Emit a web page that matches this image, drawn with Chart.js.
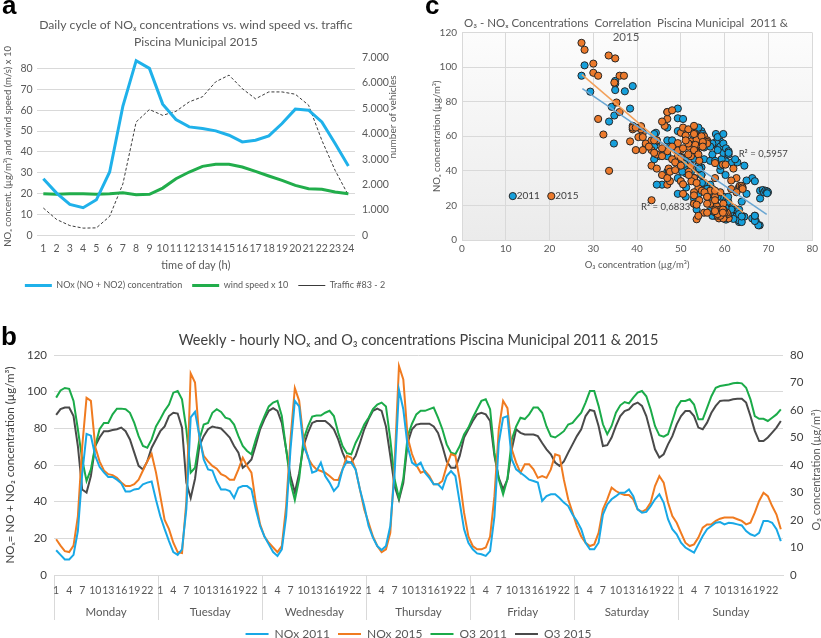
<!DOCTYPE html>
<html>
<head>
<meta charset="utf-8">
<script src="https://cdn.jsdelivr.net/npm/chart.js@4.4.1/dist/chart.umd.min.js"></script>
<style>
html,body{margin:0;padding:0;background:#fff;width:821px;height:638px;overflow:hidden;}
.panel{position:absolute;}
.lbl{position:absolute;font-family:'Liberation Sans',Arial,sans-serif;font-weight:bold;font-size:26px;line-height:26px;color:#000;}
</style>
</head>
<body>
<div class="panel" style="left:0;top:0;"><canvas id="ca" width="410" height="304"></canvas></div>
<div class="panel" style="left:410px;top:0;"><canvas id="cc" width="411" height="300"></canvas></div>
<div class="panel" style="left:0;top:318px;"><canvas id="cb" width="821" height="332"></canvas></div>
<div class="lbl" style="left:2px;top:-8px;">a</div>
<div class="lbl" style="left:425px;top:-8px;">c</div>
<div class="lbl" style="left:1px;top:323px;">b</div>
<script>
// ---------- Panel a: daily cycle ----------
const hoursA = ['1','2','3','4','5','6','7','8','9','10','11','12','13','14','15','16','17','18','19','20','21','22','23','24'];
const noxDaily = [27.2,20.3,14.9,13.3,17.1,30.4,62,83.7,80,62.9,55.5,52,51.2,50.1,48,44.8,45.6,47.7,53.6,60.5,60,54.4,44,33.3];
const windX10 = [20,19.7,20,20,19.7,20,20.5,19.5,19.7,22.7,27.2,30.4,33.1,34.1,34.1,32.8,30.7,28.5,26.4,24,22.4,22.1,20.8,20];
const traffic = [1080,630,390,290,300,750,2030,4460,4950,4720,4880,5250,5450,6040,6300,5770,5370,5640,5640,5550,5120,3740,2560,1580];

// ---------- Panel b: weekly-hourly ----------
const dayNames = ['Monday','Tuesday','Wednesday','Thursday','Friday','Saturday','Sunday'];
const hourLabels = hoursA;
const nox2011 = [
 13.5,11,8.5,8.5,11,24,55,77,76,65,59,56,53.5,53.5,52,50,45.5,45.5,46.7,47,49.5,50.4,51,41,
 32,25,18.5,12.5,11,14,36,86,89,76,63,57.6,57,51,46.7,46.7,45.8,42,47.6,48.5,48.5,46.7,35.8,26.7,
 21,16.7,12.5,10.4,14,32,68.5,95,92,70.4,65,55.8,56.7,61.3,54,50.4,45.8,48.5,57.6,62,61.3,57.6,46.7,37.6,
 26.7,20.4,15.8,13.6,15.8,26.7,55.8,101,90.4,70,61.3,59.5,61.3,55.8,53,49.5,49.5,47,54,56.7,54,39.5,25,17.6,
 14,11.8,11.3,10.4,13,32,72,85.8,86.7,63,57.6,55.8,54,52,51.3,50.4,40.4,43,44,44,42,39.5,37.6,33,
 29.5,25,17.6,14,14,17.6,33,38.5,41.3,43,44.9,44.9,46.7,43,35.8,34,34.4,37.6,41.3,44,39.5,30.4,25,22.2,
 17.6,15,13.6,12.2,16.7,21.3,25,26.7,28.5,28.9,27.6,28.5,28.2,27.6,27,24,22.2,21.3,23,29.5,29.5,28.5,25,18.5];
const nox2015 = [
 19.5,16,13,12.5,16,32,70,96.7,95,70,62,57,55,54.5,53,50.5,48.5,48.5,49.5,52,57,62,66,56,
 43,30,25,17.6,12.5,12,40,110,105,74,65,62,59.5,58,55,54,52,52,57.6,64,59.5,55.8,39.5,27.6,
 21,17.6,15,12.5,15.8,37.6,74,102,95,74,64,60,57.6,56.7,55.8,54,52,51.8,57.6,65,64,57.6,46.7,35.8,
 28.5,21,15.8,12.5,14,23,61,114,106.7,75,66,60,55.8,56.7,54,49.5,49.5,51.3,59.5,66,65,52,34,21,
 15.8,14,14,15,21,43,79.5,95,91,68.5,61.3,55.8,60.4,60.4,57.6,53,54,53,57.6,65.8,65,52,41.3,34,
 26.7,21,17.6,15.8,16.7,23,35.8,41.3,47.6,45.8,44.5,43.6,43.6,41.3,35.8,34.4,35.8,39.5,48.5,54,50.4,39.5,32.2,28.5,
 23,17.6,15.8,16.7,20.4,25.8,27.6,27.6,29.5,30.7,31.3,31.3,31.3,30.4,29.5,27.6,28.5,34,40.4,44.9,43,37.6,33,25];
const o3_2011 = [
 64.5,67.1,68,67.7,63.3,53,42,34.2,38.4,46.9,53,55.3,55.3,58.4,60.5,60.5,60.3,59,55.3,50.5,46.9,46.3,49.3,54,
 56.7,59.7,62,66.3,66.9,63.9,53,37.2,39,49.3,54.7,55.3,59,60.3,59.3,57.2,56.7,54.7,50.5,46.9,45.1,43.9,49.3,54,
 57.8,61.3,62.7,63.3,57.8,45.7,33.6,27.3,35,49.3,54,57.6,58,58,59,59.7,57.8,51.7,46.9,44.3,43.9,48,51.1,54.7,
 57.2,60.3,62,62.7,61.3,49.3,34.7,28,35,50.5,55,58.4,59.7,59.7,60.3,60.9,57.2,53,47.5,44.5,43.9,46.9,51.1,53.6,
 57.2,60.3,63.3,63.9,60.3,44.5,34.8,29.3,35,49.3,54,57.2,56.7,58.4,60.9,60.9,59,54,50.5,50,51.1,52.3,54.7,55.3,
 57.2,59,62.7,66.9,66.9,61.5,54.8,51.2,54.2,59,61.7,62.9,62.4,64.5,66.3,66.9,65,60.2,54.2,50.8,50.3,51.2,56,60.8,
 63.3,63.3,63.9,62,56.6,56.6,60.8,65,68.1,68.7,69,69.3,69.7,69.9,69.7,68.1,63.9,57.8,56.8,56.8,56,57.2,58.4,60.2];
const o3_2015 = [
 58.2,60.3,60.9,60.9,57.8,46.9,31.1,30,36,46.9,50,52.3,52.3,52.7,53,53.6,52.3,49.3,44.5,39.7,38.4,41.3,46.3,49.3,
 52.3,54,57.8,59,58.7,53.6,33.6,28,35,46.9,50.5,53,54,53.6,53.3,51.7,50,46.9,44.5,39,40.3,42,47.3,53,
 56.7,59.7,60.7,59.7,55.3,45.7,36,30,37,46.9,51.7,55.3,56,56,56,54.7,53,49.3,44.5,40.9,40.9,43.3,48,53,
 56.7,59.7,60.5,59.7,54,43.3,32.3,27.3,33.5,48,53,54.7,55,55,55,54,51.7,46.9,41.3,39,39,43.3,50,53,
 56,58.4,59,58.4,56,43.3,35.3,31.1,34.8,45.7,53,51.7,51.1,51.1,51.1,50.5,48,45.7,43.9,40.9,39.7,41.3,44.5,47.5,
 50.5,53,57.8,60,59.6,54.2,46.9,47.2,50,54.2,57.8,59.6,60.2,62,62.7,61.5,57.8,51.8,45.7,42.7,43.9,47.5,50.5,54.8,
 57.8,59.6,59.6,57.8,53.6,53,55.4,59,61.5,63.3,63.5,63.5,63.9,64.1,64.1,62.7,57.8,52.4,48.7,48.7,50,51.8,53.6,56];

// ---------- Panel c: trend line end points ----------
const trend2011 = [{x:27.5,y:87.6},{x:69.6,y:14.8}];
const trend2015 = [{x:27.4,y:95.6},{x:64.2,y:16}];
const r2Labels = ['R² = 0,5957','R² = 0,6833'];

// ---------- helpers ----------
const FONT = "Lato, 'DejaVu Sans', sans-serif";
Chart.defaults.font.family = FONT;
Chart.defaults.color = '#595959';
const GRID = '#d9d9d9';

const annot = {
  id: 'annot',
  afterDatasetsDraw(chart, args, opts) {
    const ctx = chart.ctx;
    for (const it of (opts.items || [])) {
      let x = it.x, y = it.y;
      if (it.xv !== undefined) x = chart.scales[it.xs || 'x'].getPixelForValue(it.xv);
      if (it.yv !== undefined) y = chart.scales[it.ys || 'y'].getPixelForValue(it.yv);
      ctx.save();
      ctx.translate(x, y);
      if (it.rot) ctx.rotate(it.rot);
      if (it.dot) {
        ctx.beginPath(); ctx.arc(0, 0, it.r || 3.6, 0, Math.PI * 2);
        ctx.fillStyle = it.dot; ctx.fill();
        ctx.lineWidth = 1; ctx.strokeStyle = '#262626'; ctx.stroke();
      } else {
        ctx.font = it.font; ctx.fillStyle = it.color || '#595959';
        ctx.textAlign = it.align || 'center'; ctx.textBaseline = 'middle';
        ctx.fillText(it.text, 0, 0);
      }
      ctx.restore();
    }
  }
};
const plotBg = {
  id: 'plotBg',
  beforeDraw(chart, args, opts) {
    if (!opts.on) return;
    const {ctx, chartArea: a} = chart;
    const g = ctx.createLinearGradient(0, a.top, 0, a.bottom);
    g.addColorStop(0, '#fcfcfc'); g.addColorStop(1, '#ebebeb');
    ctx.save(); ctx.fillStyle = g; ctx.fillRect(a.left, a.top, a.right - a.left, a.bottom - a.top); ctx.restore();
  }
};

// ---------- Chart a ----------
new Chart(document.getElementById('ca'), {
  type: 'line',
  data: {
    labels: hoursA,
    datasets: [
      {label: 'NOx (NO + NO2) concentration', data: noxDaily, borderColor: '#1fb1ea', backgroundColor: '#1fb1ea', borderWidth: 3, pointRadius: 0, yAxisID: 'y'},
      {label: 'wind speed x 10', data: windX10, borderColor: '#21ad4b', backgroundColor: '#21ad4b', borderWidth: 3, pointRadius: 0, yAxisID: 'y'},
      {label: 'Traffic #83 - 2', data: traffic, borderColor: '#3a3a3a', backgroundColor: '#3a3a3a', borderWidth: 1, borderDash: [3, 2], pointRadius: 0, yAxisID: 'y1'}
    ]
  },
  options: {
    responsive: false, animation: false,
    layout: {padding: {left: 0, right: 0, top: 0, bottom: 4}},
    plugins: {
      title: {display: true, fullSize: false, text: ['Daily cycle of NOₓ concentrations vs. wind speed vs. traffic', 'Piscina Municipal 2015'],
        font: {size: 12.2, weight: 'normal', lineHeight: 1.39}, color: '#595959', padding: {top: 16.5, bottom: 6.9}},
      legend: {position: 'bottom', labels: {usePointStyle: true, pointStyle: 'line', pointStyleWidth: 27, font: {size: 9}, color: '#595959', padding: 10}},
      tooltip: {enabled: false},
      annot: {items: [{text: 'number of vehicles', x: 393, y: 117, rot: -Math.PI / 2, font: '10px ' + FONT}]}
    },
    scales: {
      x: {offset: true, grid: {display: false, drawTicks: false}, border: {display: false},
        ticks: {font: {size: 10.5}, color: '#595959', padding: 6.7, maxRotation: 0, autoSkip: false},
        title: {display: true, text: 'time of day (h)', font: {size: 11}, color: '#595959', padding: {top: 0, bottom: -1.1}},
        afterFit: s => { s.height = 35.5; }},
      y: {min: 0, max: 85.3, ticks: {stepSize: 10, includeBounds: false, font: {size: 10.5}, color: '#595959', padding: 4},
        grid: {color: GRID, drawTicks: false}, border: {display: false},
        title: {display: true, text: 'NOₓ concent. (µg/m³) and wind speed (m/s) x 10', font: {size: 9.5}, color: '#595959', padding: {top: 2, bottom: 0}},
        afterFit: s => { s.width = 36.7; }},
      y1: {position: 'right', min: 0, max: 7000,
        ticks: {stepSize: 1000, callback: v => v === 0 ? '0' : (v / 1000) + '.000', font: {size: 10.5}, color: '#595959', padding: 7},
        grid: {drawOnChartArea: false, drawTicks: false}, border: {display: false},
        afterFit: s => { s.width = 55; }}
    }
  },
  plugins: [annot]
});

// ---------- Chart c ----------
const scat2011 = o3_2011.map((o, i) => ({x: o, y: nox2011[i]}));
const scat2015 = o3_2015.map((o, i) => ({x: o, y: nox2015[i]}));
new Chart(document.getElementById('cc'), {
  type: 'scatter',
  data: {
    datasets: [
      {label: '2011', data: scat2011, backgroundColor: '#16a0dc', borderColor: '#262626', borderWidth: 1, pointRadius: 3.6, order: 2},
      {label: '2015', data: scat2015, backgroundColor: '#ec7a2c', borderColor: '#262626', borderWidth: 1, pointRadius: 3.6, order: 1},
      {type: 'line', label: 'Linear (2011)', data: trend2011, borderColor: '#6aa6d2', borderWidth: 1.5, pointRadius: 0, order: 0},
      {type: 'line', label: 'Linear (2015)', data: trend2015, borderColor: '#f2a05a', borderWidth: 1.5, pointRadius: 0, order: 0}
    ]
  },
  options: {
    responsive: false, animation: false,
    layout: {padding: {left: 21, right: 0, top: 0, bottom: 28}},
    plugins: {
      title: {display: true, text: ['O₃ - NOₓ Concentrations  Correlation  Piscina Municipal  2011 &', '2015'],
        font: {size: 11.5, weight: 'normal', lineHeight: 1.217}, color: '#595959', padding: {top: 16, bottom: -11.5}},
      legend: {display: false},
      tooltip: {enabled: false},
      plotBg: {on: true},
      annot: {items: [
        {text: r2Labels[0], xv: 63.2, yv: 49.7, align: 'left', font: '9.5px ' + FONT, color: '#404040'},
        {text: r2Labels[1], xv: 40.9, yv: 19.1, align: 'left', font: '9.5px ' + FONT, color: '#404040'},
        {dot: '#16a0dc', xv: 11.6, yv: 25.4},
        {text: '2011', xv: 12.5, yv: 25.4, align: 'left', font: '10px ' + FONT, color: '#404040'},
        {dot: '#ec7a2c', xv: 20.4, yv: 25.4},
        {text: '2015', xv: 21.3, yv: 25.4, align: 'left', font: '10px ' + FONT, color: '#404040'}
      ]}
    },
    scales: {
      x: {type: 'linear', min: 0, max: 80, ticks: {stepSize: 10, font: {size: 10}, color: '#595959', padding: 3},
        grid: {color: GRID, drawTicks: false}, border: {display: true, color: GRID},
        title: {display: true, text: 'O₃ concentration (µg/m³)', font: {size: 9.5}, color: '#595959', padding: {top: 0, bottom: 1}},
        afterFit: s => { s.height = 32; }},
      y: {type: 'linear', min: 0, max: 120, ticks: {stepSize: 20, font: {size: 10}, color: '#595959', padding: 5},
        grid: {color: GRID, drawTicks: false}, border: {display: true, color: GRID},
        title: {display: true, text: 'NOₓ concentration (µg/m³)', font: {size: 9.5}, color: '#595959', padding: {top: 0, bottom: 0}},
        afterFit: s => { s.width = 31; }}
    }
  },
  plugins: [plotBg, annot]
});

// ---------- Chart b ----------
const weekLabels = dayNames.flatMap(() => hourLabels);
new Chart(document.getElementById('cb'), {
  type: 'line',
  data: {
    labels: weekLabels,
    datasets: [
      {label: 'NOx 2011', data: nox2011, borderColor: '#18a8e6', backgroundColor: '#18a8e6', yAxisID: 'y'},
      {label: 'NOx 2015', data: nox2015, borderColor: '#f07b20', backgroundColor: '#f07b20', yAxisID: 'y'},
      {label: 'O3 2011', data: o3_2011, borderColor: '#1bab49', backgroundColor: '#1bab49', yAxisID: 'y1'},
      {label: 'O3 2015', data: o3_2015, borderColor: '#4a4a4a', backgroundColor: '#4a4a4a', yAxisID: 'y1'}
    ]
  },
  options: {
    responsive: false, animation: false,
    datasets: {line: {borderWidth: 2, pointRadius: 0, tension: 0}},
    layout: {padding: {left: 0, right: 0, top: 0, bottom: 0}},
    plugins: {
      title: {display: true, fullSize: false, text: 'Weekly - hourly NOₓ and O₃ concentrations Piscina Municipal 2011 & 2015',
        font: {size: 14.5, weight: 'normal', lineHeight: 1.2}, color: '#404040', padding: {top: 13.3, bottom: 6.3}},
      legend: {position: 'bottom', fullSize: false, labels: {usePointStyle: true, pointStyle: 'line', pointStyleWidth: 23, font: {size: 12}, color: '#595959', padding: 8}},
      tooltip: {enabled: false},
      annot: {items: [{text: 'O₃ concentration (µg/m³)', x: 816, y: 152, rot: -Math.PI / 2, font: '11px ' + FONT}]}
    },
    scales: {
      x: {type: 'category', offset: true, weight: 0,
        grid: {offset: true, drawOnChartArea: false, drawTicks: true, tickLength: 45,
          color: c => (c.index % 24 === 0) ? GRID : 'rgba(0,0,0,0)'},
        border: {display: true, color: GRID},
        ticks: {autoSkip: false, maxRotation: 0, minRotation: 0, padding: -35.3, font: {size: 10.5}, color: '#595959',
          callback: function (v, i) { return i % 3 === 0 ? this.getLabelForValue(v) : ''; }},
        afterFit: s => { s.height = 24; }},
      xd: {type: 'category', labels: dayNames, offset: true, position: 'bottom', weight: 1,
        grid: {display: false, drawTicks: false}, border: {display: false},
        ticks: {font: {size: 11.5}, color: '#595959', padding: 6.8, maxRotation: 0},
        afterFit: s => { s.height = 21; }},
      y: {min: 0, max: 120, ticks: {stepSize: 20, font: {size: 11.5}, color: '#404040', padding: 7},
        grid: {color: GRID, drawTicks: false}, border: {display: false},
        title: {display: true, text: 'NOₓ= NO + NO₂ concentration (µg/m³)', font: {size: 11.5}, color: '#404040', padding: {top: 3, bottom: 0}},
        afterFit: s => { s.width = 54; }},
      y1: {position: 'right', min: 0, max: 80, ticks: {stepSize: 10, font: {size: 11.5}, color: '#404040', padding: 7},
        grid: {drawOnChartArea: false, drawTicks: false}, border: {display: false},
        afterFit: s => { s.width = 38; }}
    }
  },
  plugins: [annot]
});
</script>
</body>
</html>
